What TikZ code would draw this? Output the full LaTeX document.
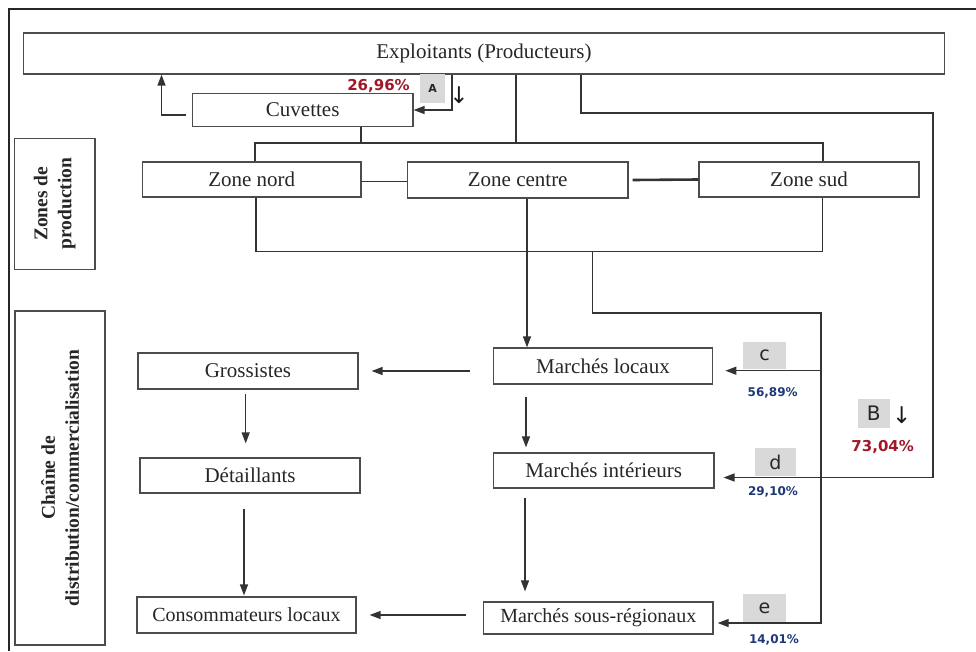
\documentclass[tikz,border=0pt]{standalone}
\usepackage{fontspec}
\setmainfont{Liberation Serif}
\newfontfamily\pctfont{DejaVu Sans}
\usetikzlibrary{arrows.meta}
\definecolor{pctred}{RGB}{160,24,40}
\definecolor{pctblue}{RGB}{30,55,120}
\definecolor{tabgray}{RGB}{217,217,217}
\tikzset{
  box/.style={draw=black!70, line width=1.2pt, inner sep=0pt, text=black!85,
    font=\fontsize{21}{24}\selectfont},
  sidebox/.style={draw=black!70, line width=1.2pt, inner sep=0pt, rotate=90,
    align=center, text=black!85, font=\fontsize{19.5}{24}\selectfont\bfseries},
  link/.style={draw=black!80, line width=1.3pt},
  arr/.style={link, -{Triangle[length=11pt,width=8pt]}},
  tab/.style={fill=tabgray, inner sep=0pt, text=black!85,
    font=\pctfont\fontsize{19}{21}\selectfont},
  pct/.style={inner sep=0pt, text=pctblue,
    font=\pctfont\bfseries\fontsize{12}{14}\selectfont},
  pctbig/.style={pct, text=pctred,
    font=\pctfont\bfseries\fontsize{15}{17}\selectfont},
  downmark/.style={inner sep=0pt, text=black!90,
    font=\pctfont\fontsize{23}{25}\selectfont},
}
\begin{document}
\begin{tikzpicture}[x=1pt,y=-1pt]
    \useasboundingbox (0,0) rectangle (976,651);
    % Cadre
    \draw[line width=1.4pt, black!85] (9,651) -- (9,9) -- (976,9);

    % Producteurs et zones de production
    \node[box, minimum width=921pt, minimum height=41pt] (expl) at (484,53.5) {Exploitants (Producteurs)};
    \node[box, minimum width=220.5pt, minimum height=33.5pt] (cuv) at (302.7,110) {Cuvettes};
    \node[box, minimum width=218.5pt, minimum height=35pt] (znord) at (251.7,179.5) {Zone nord};
    \node[box, minimum width=220.5pt, minimum height=36pt] (zcentre) at (517.7,180) {Zone centre};
    \node[box, minimum width=220pt, minimum height=35pt] (zsud) at (809,179.5) {Zone sud};

    \node[sidebox, minimum width=131pt, minimum height=80.5pt] (zprod) at (54.7,203.7) {Zones de\\production};
    \node[sidebox, minimum width=334pt, minimum height=90pt] (chaine) at (60,478) {Cha\^ine de\\distribution/commercialisation};

    % Chaine de distribution
    \node[box, minimum width=220pt, minimum height=36pt] (gros) at (248,371) {Grossistes};
    \node[box, minimum width=220pt, minimum height=35pt] (detail) at (250,475.5) {D\'etaillants};
    \node[box, minimum width=219pt, minimum height=36pt, font=\fontsize{20}{24}\selectfont] (conso) at (246.5,615) {Consommateurs locaux};
    \node[box, minimum width=219.5pt, minimum height=36pt] (mloc) at (603,366) {March\'es locaux};
    \node[box, minimum width=220.5pt, minimum height=35pt] (mint) at (603.7,470.5) {March\'es int\'erieurs};
    \node[box, minimum width=229.5pt, minimum height=32pt, font=\fontsize{20}{24}\selectfont] (msous) at (598.3,618) {March\'es sous-r\'egionaux};

    % Flux et parts
    \node[tab, minimum width=25pt, minimum height=29pt, font=\pctfont\bfseries\fontsize{11}{13}\selectfont] (tabA) at (432.5,88.5) {A};
    \node[tab, minimum width=32pt, minimum height=29pt, font=\pctfont\fontsize{20}{22}\selectfont] (tabB) at (873.8,413.5) {B};
    \node[tab, minimum width=43pt, minimum height=27pt] (tabc) at (764.5,355.3) {c};
    \node[tab, minimum width=41pt, minimum height=28pt] (tabd) at (775.4,462) {d};
    \node[tab, minimum width=43pt, minimum height=29pt] (tabe) at (764.5,608.7) {e};
    \node[downmark] (downA) at (459,95) {↓};
    \node[downmark] (downB) at (901.7,415) {↓};

    \node[pctbig] (pA) at (378.5,85.5) {26,96\%};
    \node[pctbig] (pB) at (882.7,447.3) {73,04\%};
    \node[pct] (pc) at (772.7,393) {56,89\%};
    \node[pct] (pd) at (773,492) {29,10\%};
    \node[pct] (pe) at (774,640) {14,01\%};

    % Liaisons producteurs / zones
    \draw[arr] ([xshift=-6pt,yshift=-5pt]cuv.west) -| (expl.south -| 161.5,0);
    \draw[arr] (expl.south -| 452,0) |- (cuv.east);
    \draw[link] (expl.south -| 516,0) -- (516,143);
    \draw[link] (cuv.south -| 361,0) -- (361,143);
    \draw[link] (znord.north -| 255,0) |- (823,143) -- (zsud.north -| 823,0);
    \draw[link] ([yshift=-2pt]znord.east) -- ([yshift=-2pt]zcentre.west |- znord.east);
    \draw[link, line width=2.6pt] ([xshift=4pt]zcentre.east) -- (zsud.west);
    \draw[link] (znord.south -| 256,0) |- (822.5,251.7) -- (zsud.south -| 822.5,0);
    \draw[arr] (zcentre.south -| 527,0) -- (mloc.north -| 527,0);

    % Circuit de commercialisation
    \coordinate (jbus) at (592.5,251.7);
    \coordinate (jc) at (821,370.7);
    \draw[arr, shorten >=4pt] (jbus) |- (821,313) |- ([yshift=-5pt]msous.east);
    \draw[arr, shorten >=12pt] (jc) -- ([yshift=-4.7pt]mloc.east);
    \draw[arr, shorten >=9pt] (expl.south -| 581,0) |- (933,113) |- ([yshift=-7pt]mint.east);

    \draw[arr, shorten <=23pt, shorten >=13pt] (mloc.west |- gros.east) -- (gros.east);
    \draw[arr, shorten <=17pt, shorten >=13pt] (msous.west |- conso.east) -- (conso.east);
    \draw[arr, shorten <=12pt, shorten >=5pt] (mloc.south -| 526,0) -- (mint.north -| 526,0);
    \draw[arr, shorten <=9pt, shorten >=10pt] (mint.south -| 525,0) -- (msous.north -| 525,0);
    \draw[arr, shorten <=4pt, shorten >=14pt] (gros.south -| 245.7,0) -- (detail.north -| 245.7,0);
    \draw[arr, shorten <=15pt, shorten >=1pt] (detail.south -| 244,0) -- (conso.north -| 244,0);
\end{tikzpicture}
\end{document}
